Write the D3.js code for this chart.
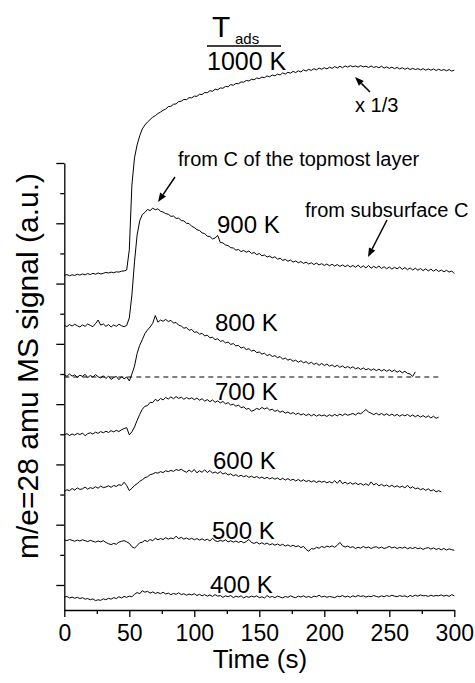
<!DOCTYPE html>
<html>
<head>
<meta charset="utf-8">
<script src="https://cdnjs.cloudflare.com/ajax/libs/d3/7.8.5/d3.min.js"></script>
<style>
  html, body { margin: 0; padding: 0; background: #fff; }
  svg { display: block; font-family: "Liberation Sans", Arial, Helvetica, sans-serif; }
</style>
</head>
<body>
<svg id="chart" width="475" height="683"></svg>
<script>
// ---- data -------------------------------------------------------------
// m/e = 28 signal traces, sampled every 2 s, one per adsorption temperature.
// Each trace is stored relative to its own baseline; "offsets" stacks them.
const timeStep = 2;
const tempLabels = ["400 K", "500 K", "600 K", "700 K", "800 K", "900 K", "1000 K"];
const offsets = [-4, 15, 31, 50, 69, 86, 103];

const sig400 = [-0.1,0.2,-0.3,0.0,-0.4,-0.1,-0.5,-0.2,-0.7,-0.5,-0.9,-0.6,-1.2,-0.9,-1.1,-0.6,-0.9,-0.4,-0.7,-0.2,
  -0.5,0.1,-0.3,0.2,-0.1,0.3,0.1,0.9,1.5,1.1,2.1,1.6,1.9,1.3,1.7,1.2,1.5,1.1,1.6,1.0,
  1.3,0.8,1.2,0.9,1.4,0.8,1.1,0.6,1.0,0.7,1.1,0.5,0.9,0.4,0.8,0.3,0.7,0.2,0.8,0.3,
  0.5,-0.1,0.4,0.1,0.5,-0.2,0.3,0.0,0.4,-0.3,0.2,-0.1,0.3,0.0,0.4,-0.2,0.1,-0.3,0.5,-0.1,
  0.2,-0.2,0.3,0.0,-0.3,0.2,-0.1,0.4,0.0,-0.2,0.3,0.0,0.4,-0.1,0.2,-0.2,0.3,0.1,0.6,0.0,
  0.3,-0.1,0.2,0.0,-0.2,0.3,0.1,0.5,0.0,0.3,-0.1,0.4,0.1,0.5,0.2,0.4,0.0,0.3,0.1,0.5,
  0.2,0.0,0.4,0.1,0.5,0.2,0.6,0.3,0.1,0.5,0.2,0.4,0.0,0.5,0.2,0.6,0.3,0.7,0.4,0.5,
  0.2,0.6,0.3,0.5,0.4,0.7,0.3,0.6,0.2,0.8,0.4];

const sig500 = [0.0,-0.3,0.1,-0.2,-0.5,-0.1,-0.4,0.0,-0.3,-0.6,-0.2,-0.5,-0.8,-0.4,-0.7,-0.3,-0.9,-1.3,-1.6,-1.2,
  -1.5,-0.8,-0.5,-0.3,-0.7,-1.2,-2.3,-2.8,-1.9,-1.0,-0.8,-0.2,-0.6,0.1,-0.3,0.5,0.0,0.4,0.1,0.7,
  0.2,0.6,0.3,1.2,0.4,0.8,0.2,0.6,0.1,0.5,0.0,0.4,-0.1,0.3,-0.2,0.2,-0.4,0.5,-0.3,-0.6,
  -0.2,-0.5,0.0,-0.7,-0.3,-0.8,-0.4,-0.9,-0.5,-1.0,-0.6,0.1,-0.9,-1.2,-0.8,-1.4,-1.0,-1.5,-1.1,-1.7,
  -1.3,-1.8,-1.4,-1.9,-1.5,-2.1,-1.7,-2.2,-1.8,-2.3,-2.0,-2.6,-2.2,-3.2,-3.8,-2.9,-3.1,-2.5,-2.8,-2.2,
  -2.6,-2.1,-2.4,-2.0,-2.5,-1.8,-0.9,-2.0,-2.4,-2.1,-2.6,-2.3,-2.9,-2.5,-2.8,-2.2,-2.7,-2.4,-2.9,-2.5,
  -2.3,-2.8,-2.4,-2.9,-2.6,-2.2,-2.7,-2.4,-2.9,-2.5,-2.8,-2.4,-3.0,-2.6,-2.9,-2.5,-3.0,-2.7,-3.2,-2.8,
  -2.6,-3.1,-2.7,-3.2,-2.9,-3.3,-2.9,-3.4,-3.0,-3.3,-3.5];

const sig600 = [0.0,0.6,0.3,1.0,0.5,1.2,0.7,0.9,1.5,0.8,1.3,1.0,1.6,1.1,1.8,1.3,1.5,1.9,1.4,2.0,
  1.7,2.3,2.0,3.1,2.0,0.3,1.1,2.0,2.6,3.4,3.9,4.6,4.9,5.6,5.8,6.3,6.1,6.6,6.3,6.9,
  6.6,7.0,6.7,7.3,7.0,7.4,6.8,6.4,7.1,6.5,7.3,6.2,6.9,6.4,7.2,6.3,7.0,6.1,6.5,6.0,
  6.6,5.8,6.2,5.5,5.9,5.2,5.6,5.0,5.4,4.9,5.3,4.7,5.1,4.6,5.0,4.4,4.8,4.3,4.7,4.2,
  4.6,4.1,4.5,3.9,4.4,3.8,4.3,3.7,4.1,3.5,4.0,3.4,3.9,3.3,3.7,3.2,3.6,3.0,3.5,3.1,
  3.4,2.9,3.3,2.8,3.6,2.7,3.8,2.6,3.1,2.5,3.0,2.4,2.9,2.3,2.7,2.1,2.6,2.0,3.2,2.2,
  2.7,1.9,2.4,1.8,2.2,1.6,2.1,1.5,1.9,1.4,1.8,1.2,2.1,1.1,1.6,0.9,1.2,0.6,1.0,0.4,
  0.9,0.2,0.6,-0.1,0.3,-0.1];

const sig700 = [-0.2,0.2,-0.4,0.1,-0.3,0.3,-0.1,0.4,-0.5,0.2,0.5,0.1,0.7,0.3,0.9,0.5,1.0,0.6,1.2,0.8,
  1.3,0.9,1.5,1.9,2.2,-0.2,0.8,2.4,4.6,6.6,8.3,9.3,9.5,10.6,10.5,11.6,11.0,11.9,11.4,12.2,
  11.7,12.4,11.8,12.5,11.9,12.3,11.6,12.2,11.7,12.1,11.5,12.0,11.3,11.8,11.0,11.5,10.8,11.4,10.6,11.1,
  10.4,10.9,10.1,10.5,9.7,10.0,9.3,9.7,8.8,9.1,8.3,8.6,7.6,8.0,8.6,8.2,8.9,8.4,8.8,8.0,
  8.3,7.6,8.0,7.3,7.7,7.0,7.4,6.8,7.2,6.6,7.0,6.4,6.8,6.2,6.7,6.1,6.6,6.0,6.5,6.1,
  6.4,5.9,6.5,6.0,6.6,6.1,6.7,6.2,6.8,6.3,6.6,6.9,6.4,7.1,6.8,7.5,8.2,7.4,7.0,6.5,
  7.0,6.4,6.9,6.3,6.8,6.2,6.7,6.1,6.6,6.0,6.5,6.1,6.6,5.9,6.4,5.8,6.3,5.7,6.2,5.6,
  6.1,5.4,6.0,5.3,5.7];

const sig800 = [0.8,0.2,1.0,0.3,0.7,-0.1,0.6,0.2,0.9,-0.2,0.5,0.0,0.8,0.1,-0.3,0.4,-0.5,0.3,-0.8,-0.2,
  0.2,-0.9,0.1,-0.6,0.0,-1.3,1.0,3.6,7.8,10.5,12.4,14.4,15.6,16.6,17.8,20.4,18.2,18.9,18.5,19.1,
  18.4,18.8,17.9,18.1,17.2,16.9,16.2,16.4,15.5,15.8,14.8,15.0,14.2,14.5,13.6,13.9,13.0,13.2,12.4,12.7,
  11.8,12.1,11.3,11.6,10.8,11.1,10.3,10.5,9.6,9.9,9.1,9.4,8.6,8.9,8.1,8.3,7.6,7.9,7.1,7.5,
  6.8,7.1,6.4,6.8,5.9,6.3,5.6,5.9,5.2,5.6,4.9,5.4,4.7,5.1,4.4,4.9,4.2,4.6,3.9,4.5,
  3.8,4.3,3.6,4.0,3.4,3.9,3.2,3.7,3.0,3.5,2.9,3.4,2.7,3.1,2.5,3.0,2.4,2.8,2.2,2.7,
  2.1,2.6,2.0,2.5,1.9,2.4,1.8,2.3,1.6,2.1,1.4,1.9,1.2,1.0,0.2,1.7];

const sig900 = [0.2,-0.3,0.4,-0.1,0.5,0.0,-0.4,0.3,-0.2,0.6,0.1,-0.3,0.7,1.9,0.2,0.6,-0.2,0.4,-0.4,0.3,
  -0.2,0.5,0.0,-0.3,0.1,2.6,10.2,21.2,30.1,34.8,36.9,37.6,38.6,38.2,39.0,38.5,38.8,38.0,37.7,37.2,
  37.0,36.3,36.4,35.6,35.7,34.9,34.8,34.0,33.9,33.0,32.6,31.9,31.6,30.8,30.6,29.7,29.6,28.8,29.1,30.0,
  27.6,27.5,26.8,26.6,25.9,25.8,25.1,25.3,24.6,25.0,24.4,24.8,24.0,24.3,23.6,24.0,23.2,23.5,22.8,23.1,
  22.5,22.9,22.1,22.4,21.7,22.0,21.4,21.8,21.1,21.5,20.9,21.3,20.7,21.1,20.5,20.9,20.3,20.8,20.2,20.6,
  20.0,20.5,19.9,20.4,19.8,20.3,19.7,20.2,19.6,20.1,19.5,20.0,19.4,20.1,19.3,19.9,19.2,20.0,19.1,19.7,
  19.2,19.8,19.0,19.6,18.9,19.5,18.8,19.4,18.9,19.5,18.7,19.3,18.6,19.2,18.5,19.1,18.4,19.0,18.3,18.9,
  18.2,18.8,18.1,18.7,18.0,18.5,17.9,18.4,17.8,18.2,17.3];

// 1000 K trace is shown divided by 3
const sig1000 = [-0.3,0.0,-0.4,-0.1,-0.3,0.1,-0.2,0.2,-0.1,0.3,0.0,0.4,0.1,0.5,0.2,0.4,0.7,0.5,0.8,0.6,
  0.9,0.8,1.1,1.2,1.5,8.2,29.7,38.7,43.0,46.0,48.3,49.6,50.6,51.4,52.2,52.7,53.4,53.9,54.5,54.9,
  55.7,55.8,56.5,56.6,57.4,57.5,58.1,58.0,58.7,58.6,59.2,59.1,59.8,59.7,60.4,60.3,61.0,60.8,61.5,61.3,
  61.9,61.8,62.4,62.3,63.0,62.8,63.4,63.3,63.9,63.8,64.4,64.2,64.8,64.6,65.2,65.0,65.5,65.3,65.9,65.6,
  66.2,65.9,66.5,66.2,66.9,66.5,67.1,66.8,67.4,67.0,67.6,67.2,67.9,67.5,68.1,67.7,68.3,67.9,68.5,68.1,
  68.6,68.2,68.8,68.4,69.0,68.5,69.1,68.6,69.2,68.8,69.3,68.9,69.2,68.8,69.3,68.9,69.1,68.7,69.2,68.7,
  69.0,68.6,69.1,68.5,68.9,68.4,68.8,68.3,68.7,68.2,68.6,68.1,68.5,68.0,68.4,68.0,68.3,67.9,68.3,67.8,
  68.2,67.8,68.2,67.7,68.1,67.7,68.0,67.6,68.0,67.5,67.8];

const signals = [sig400, sig500, sig600, sig700, sig800, sig900, sig1000];

const xTicks = [0, 50, 100, 150, 200, 250, 300];
const xMinorTicks = [25, 75, 125, 175, 225, 275];
const yMajorTicks = [0, 20, 40, 60, 80, 100, 120, 140];
const yMinorTicks = [10, 30, 50, 70, 90, 110, 130];
const reference800End = 290; // s, end of the dashed 800 K reference line

// ---- scales --------------------------------------------------------------
const svg = d3.select("#chart");
const x = d3.scaleLinear().domain([0, 300]).range([64.3, 454.3]);
const y = d3.scaleLinear().domain([-8.3, 140]).range([610, 163]);
const FONT = '"Liberation Sans", Arial, Helvetica, sans-serif';

// ---- axes ----------------------------------------------------------------
const gx = svg.append("g").attr("transform", `translate(0,${y.range()[0]})`);
gx.call(d3.axisBottom(x).tickValues(xMinorTicks).tickSize(4).tickSizeOuter(0).tickFormat(""));
gx.call(g => g.select(".domain").remove());
const gx2 = svg.append("g").attr("transform", `translate(0,${y.range()[0]})`);
gx2.call(d3.axisBottom(x).tickValues(xTicks).tickSize(7).tickSizeOuter(0).tickPadding(8).tickFormat(d3.format("d")));

const gy = svg.append("g").attr("transform", `translate(${x.range()[0]},0)`);
gy.call(d3.axisLeft(y).tickValues(yMinorTicks).tickSize(4).tickSizeOuter(0).tickFormat(""));
gy.call(g => g.select(".domain").remove());
const gy2 = svg.append("g").attr("transform", `translate(${x.range()[0]},0)`);
gy2.call(d3.axisLeft(y).tickValues(yMajorTicks).tickSize(8).tickSizeOuter(0).tickFormat(""));

svg.selectAll(".domain, .tick line").attr("stroke", "#000").attr("stroke-width", 1.3);
gx2.selectAll("text").attr("font-size", 23).attr("font-family", FONT).attr("fill", "#000");

// axis titles
svg.append("text")
  .attr("x", 260).attr("y", 668)
  .attr("text-anchor", "middle")
  .attr("font-size", 26)
  .text("Time (s)");

svg.append("text")
  .attr("transform", "translate(38,366) rotate(-90)")
  .attr("text-anchor", "middle")
  .attr("font-size", 30)
  .text("m/e=28 amu MS signal (a.u.)");

// ---- dashed reference line at the 800 K baseline -------------------------
svg.append("line")
  .attr("x1", x(0)).attr("x2", x(reference800End))
  .attr("y1", y(offsets[4])).attr("y2", y(offsets[4]))
  .attr("stroke", "#000").attr("stroke-width", 1)
  .attr("stroke-dasharray", "5,4");

// ---- traces --------------------------------------------------------------
signals.forEach((vals, k) => {
  const line = d3.line()
    .x((d, i) => x(i * timeStep))
    .y(d => y(offsets[k] + d));
  svg.append("path")
    .datum(vals)
    .attr("d", line)
    .attr("fill", "none")
    .attr("stroke", "#000")
    .attr("stroke-width", 1)
    .attr("stroke-linejoin", "round");
});

// ---- temperature labels --------------------------------------------------
const labelPos = [[210, 593], [212, 539], [213, 469], [215, 400], [215, 331], [217, 233], [207, 70]];
tempLabels.forEach((t, k) => {
  svg.append("text")
    .attr("x", labelPos[k][0]).attr("y", labelPos[k][1])
    .attr("font-size", k === 6 ? 25 : 24)
    .text(t);
});

// T_ads header over the 1000 K label
svg.append("text").attr("x", 212).attr("y", 37).attr("font-size", 30).text("T");
svg.append("text").attr("x", 235).attr("y", 44).attr("font-size", 15).text("ads");
svg.append("line").attr("x1", 207).attr("x2", 281).attr("y1", 46).attr("y2", 46)
  .attr("stroke", "#000").attr("stroke-width", 1.5);

// ---- annotations ---------------------------------------------------------
function arrow(x1, y1, x2, y2) {
  const a = Math.atan2(y2 - y1, x2 - x1);
  const len = 9, half = 3.5;
  const bx = x2 - len * Math.cos(a), by = y2 - len * Math.sin(a);
  svg.append("line")
    .attr("x1", x1).attr("y1", y1).attr("x2", bx).attr("y2", by)
    .attr("stroke", "#000").attr("stroke-width", 1.5);
  svg.append("path")
    .attr("d", `M${x2},${y2}L${bx + half * Math.sin(a)},${by - half * Math.cos(a)}L${bx - half * Math.sin(a)},${by + half * Math.cos(a)}Z`)
    .attr("fill", "#000");
}

svg.append("text").attr("x", 178).attr("y", 166).attr("font-size", 20).text("from C of the topmost layer");
arrow(175, 177, 158, 202);

svg.append("text").attr("x", 305).attr("y", 217).attr("font-size", 20).text("from subsurface C");
arrow(387, 220, 368, 257);

svg.append("text").attr("x", 355).attr("y", 112).attr("font-size", 20).text("x 1/3");
arrow(370, 92, 355, 77);
</script>
</body>
</html>
